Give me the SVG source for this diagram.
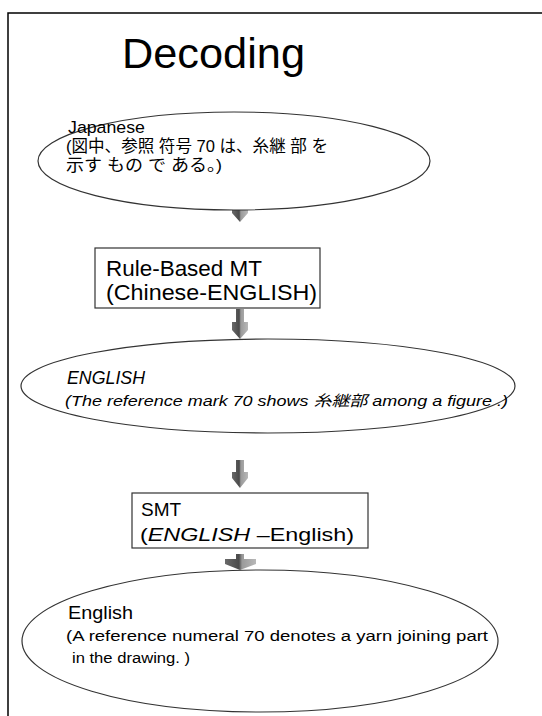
<svg xmlns="http://www.w3.org/2000/svg" width="542" height="716" viewBox="0 0 542 716">
<defs>
<linearGradient id="ag" x1="0" y1="0" x2="1" y2="0">
<stop offset="0" stop-color="#6a6a6a"/>
<stop offset="0.45" stop-color="#4a4a4a"/>
<stop offset="0.55" stop-color="#9a9a9a"/>
<stop offset="1" stop-color="#b8b8b8"/>
</linearGradient>
</defs>
<style>
.t{font-family:"Liberation Sans","Noto Sans CJK JP",sans-serif;fill:#000}
.it{font-style:italic}
.sh{fill:#fff;stroke:#333;stroke-width:1.2}
.arr{fill:url(#ag)}
</style>
<rect width="542" height="716" fill="#fff"/>
<g id="frame">
<path d="M8 716 V13 H542" fill="none" stroke="#000" stroke-width="1.5"/>
</g>
<g id="title">
<text class="t" x="122" y="68" font-size="43" textLength="183" lengthAdjust="spacingAndGlyphs">Decoding</text>
</g>
<g id="connectors">
<path class="arr" d="M236 200 H244 V210 H248 V213 L240 222 L232 213 V210 H236 Z"/>
<path class="arr" d="M236 309 H244 V322 H248 V330 L240 339 L232 330 V322 H236 Z"/>
<path class="arr" d="M236 460 H244 V472 H248 V478 L240 488 L232 478 V472 H236 Z"/>
<path class="arr" d="M236 554 H244 V559 H256 V564 L240 570 L225 564 V559 H236 Z"/>
</g>
<g id="node-japanese">
<ellipse class="sh" cx="234" cy="161" rx="196" ry="49"/>
<text class="t" x="68" y="133" font-size="17" textLength="77" lengthAdjust="spacingAndGlyphs">Japanese</text>
<text class="t" x="66" y="152" font-size="16.5" textLength="262" lengthAdjust="spacingAndGlyphs">(図中、参照 符号 70 は、糸継 部 を</text>
<text class="t" x="66" y="171" font-size="16.5" textLength="156" lengthAdjust="spacingAndGlyphs">示す もの で ある。)</text>
</g>
<g id="node-rbmt">
<rect class="sh" x="95" y="248" width="225" height="60"/>
<text class="t" x="106" y="276" font-size="22" textLength="156" lengthAdjust="spacingAndGlyphs">Rule-Based MT</text>
<text class="t" x="106" y="300" font-size="22" textLength="211" lengthAdjust="spacingAndGlyphs">(Chinese-ENGLISH)</text>
</g>
<g id="node-english-upper">
<ellipse class="sh" cx="268" cy="386" rx="247" ry="47"/>
<text class="t it" x="67" y="384" font-size="18" textLength="78" lengthAdjust="spacingAndGlyphs">ENGLISH</text>
<text class="t it" x="65" y="406" font-size="15" textLength="443" lengthAdjust="spacingAndGlyphs">(The reference mark 70 shows 糸継部 among a figure .)</text>
</g>
<g id="node-smt">
<rect class="sh" x="132" y="493" width="236" height="55"/>
<text class="t" x="141" y="516" font-size="19">SMT</text>
<text class="t" x="140" y="541" font-size="19" textLength="214" lengthAdjust="spacingAndGlyphs">(<tspan class="it">ENGLISH</tspan> –English)</text>
</g>
<g id="node-english">
<ellipse class="sh" cx="260" cy="641" rx="238" ry="71"/>
<text class="t" x="68" y="619" font-size="19" textLength="65" lengthAdjust="spacingAndGlyphs">English</text>
<text class="t" x="66" y="641" font-size="15.5" textLength="422" lengthAdjust="spacingAndGlyphs">(A reference numeral 70 denotes a yarn joining part</text>
<text class="t" x="72" y="663" font-size="15.5" textLength="118" lengthAdjust="spacingAndGlyphs">in the drawing. )</text>
</g>
</svg>
